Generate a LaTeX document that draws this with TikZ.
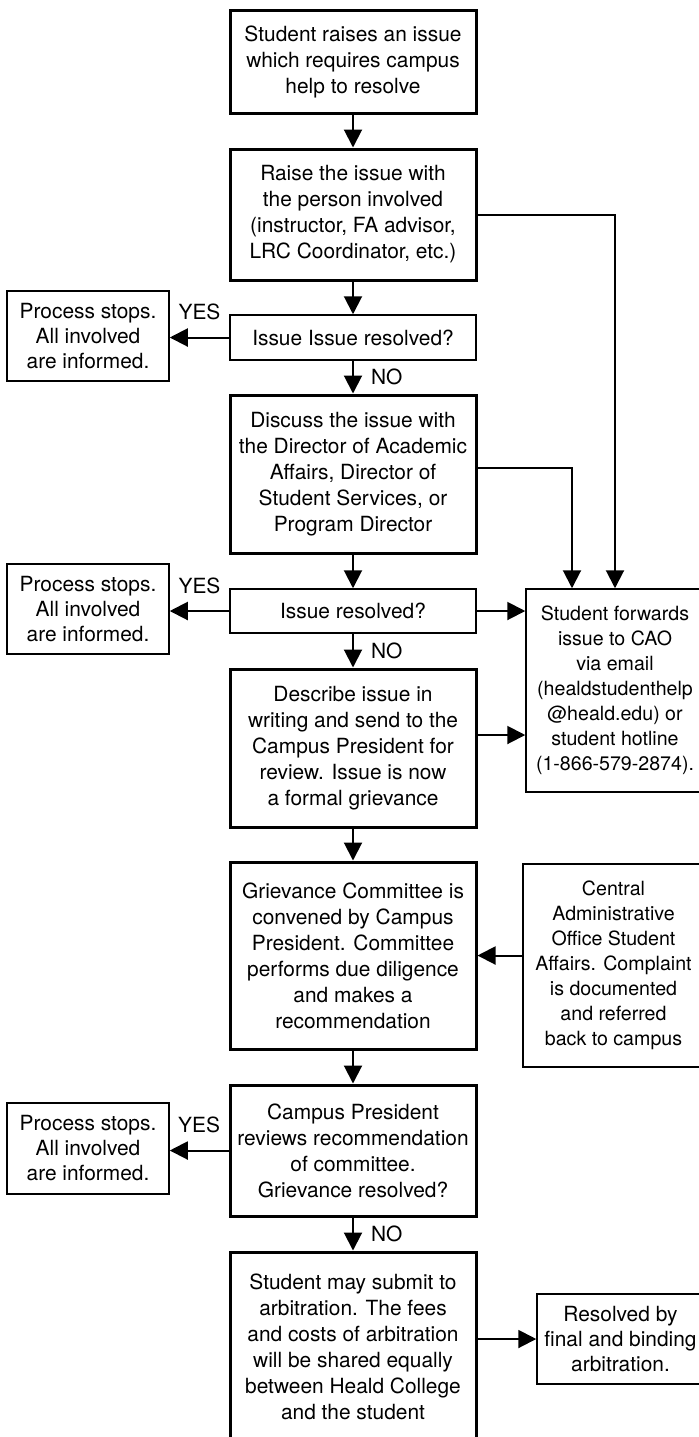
\documentclass[tikz,border=0pt]{standalone}
\usepackage{fontspec}
\setmainfont{TeX Gyre Heros}
\usetikzlibrary{arrows.meta,calc,positioning}

\begin{document}
\begin{tikzpicture}[x=0.5pt,y=-0.5pt,
    box/.style={draw,line width=1.5pt,minimum width=123pt,align=center,inner sep=0pt,
      font=\fontsize{10.45}{13}\selectfont},
    thinbox/.style={box,line width=0.75pt},
    side/.style={draw,line width=0.75pt,align=center,inner sep=0pt,
      font=\fontsize{10.45}{12.5}\selectfont},
    note/.style={side,font=\fontsize{9.8}{12.5}\selectfont},
    arr/.style={line width=1pt,-{Triangle[length=9pt,width=9pt]}},
    lbl/.style={font=\fontsize{10.45}{13}\selectfont,inner sep=0pt}]
  \useasboundingbox (0,0) rectangle (698,1437);

  \node[box,minimum height=51.5pt] (start) at (353,61.5) {Student raises an issue\\which requires campus\\help to resolve};
  \node[box,minimum height=65.5pt] (raise) at (353,214.5) {Raise the issue with\\the person involved\\(instructor, FA advisor,\\LRC Coordinator, etc.)};
  \node[thinbox,minimum height=22.5pt] (ask1) at (353,337.5) {Issue Issue resolved?};
  \node[side,minimum width=81pt,minimum height=45pt] (stop1) at (88,336) {Process stops.\\All involved\\are informed.};
  \node[box,minimum height=79pt] (discuss) at (353,474) {Discuss the issue with\\the Director of Academic\\Affairs, Director of\\Student Services, or\\Program Director};
  \node[thinbox,minimum height=22pt] (ask2) at (353,611) {Issue resolved?};
  \node[side,minimum width=81pt,minimum height=45pt] (stop2) at (88,609) {Process stops.\\All involved\\are informed.};
  % the right hand boxes run off the page edge
  \node[note,minimum width=89pt,minimum height=101.5pt] (cao) at (615,690.5) {Student forwards\\issue to CAO\\via email\\(healdstudenthelp\\@heald.edu) or\\student hotline\\(1-866-579-2874).};
  \node[box,minimum height=79pt] (describe) at (353,748) {Describe issue in\\writing and send to the\\Campus President for\\review. Issue is now\\a formal grievance};
  \node[box,minimum height=93.5pt] (committee) at (353,955.5) {Grievance Committee is\\convened by Campus\\President. Committee\\performs due diligence\\and makes a\\recommendation};
  \node[note,minimum width=90.5pt,minimum height=101.5pt] (central) at (613.5,965.5) {Central\\Administrative\\Office Student\\Affairs. Complaint\\is documented\\and referred\\back to campus};
  \node[box,minimum height=65.5pt] (review) at (353,1150.5) {Campus President\\reviews recommendation\\of committee.\\Grievance resolved?};
  \node[side,minimum width=81pt,minimum height=45.5pt] (stop3) at (88,1148.5) {Process stops.\\All involved\\are informed.};
  \node[box,minimum height=94.5pt] (arbitrate) at (353,1346.5) {Student may submit to\\arbitration. The fees\\and costs of arbitration\\will be shared equally\\between Heald College\\and the student};
  \node[side,minimum width=83.5pt,minimum height=45pt] (final) at (620.5,1339) {Resolved by\\final and binding\\arbitration.};

  \draw[arr] (start) -- (raise);
  \draw[arr] (raise) -- (ask1);
  \draw[arr] (ask1.west) -- node[lbl,above=8.25pt] {YES} (ask1.west -| stop1.east);
  \draw[arr] (ask1) -- node[lbl,right=8.5pt] {NO} (discuss);
  \draw[arr] (raise.east) -| (cao.north);
  \draw[arr] ([yshift=3pt]discuss.east) -| ($(cao.north)+(-43,0)$);
  \draw[arr] (discuss) -- (ask2);
  \draw[arr] (ask2.west) -- node[lbl,above=8.25pt] {YES} (ask2.west -| stop2.east);
  \draw[arr] (ask2.east) -- (ask2.east -| cao.west);
  \draw[arr] (ask2) -- node[lbl,right=8.5pt] {NO} (describe);
  \draw[arr] ([yshift=6.5pt]describe.east) -- ([yshift=6.5pt]describe.east -| cao.west);
  \draw[arr] (describe) -- (committee);
  \draw[arr] (central.west |- committee.east) -- (committee.east);
  \draw[arr] (committee) -- (review);
  \draw[arr] (review.west) -- node[lbl,above=8.25pt] {YES} (review.west -| stop3.east);
  \draw[arr] (review) -- node[lbl,right=8.5pt] {NO} (arbitrate);
  \draw[arr] (arbitrate.east |- final.west) -- (final.west);
\end{tikzpicture}
\end{document}
